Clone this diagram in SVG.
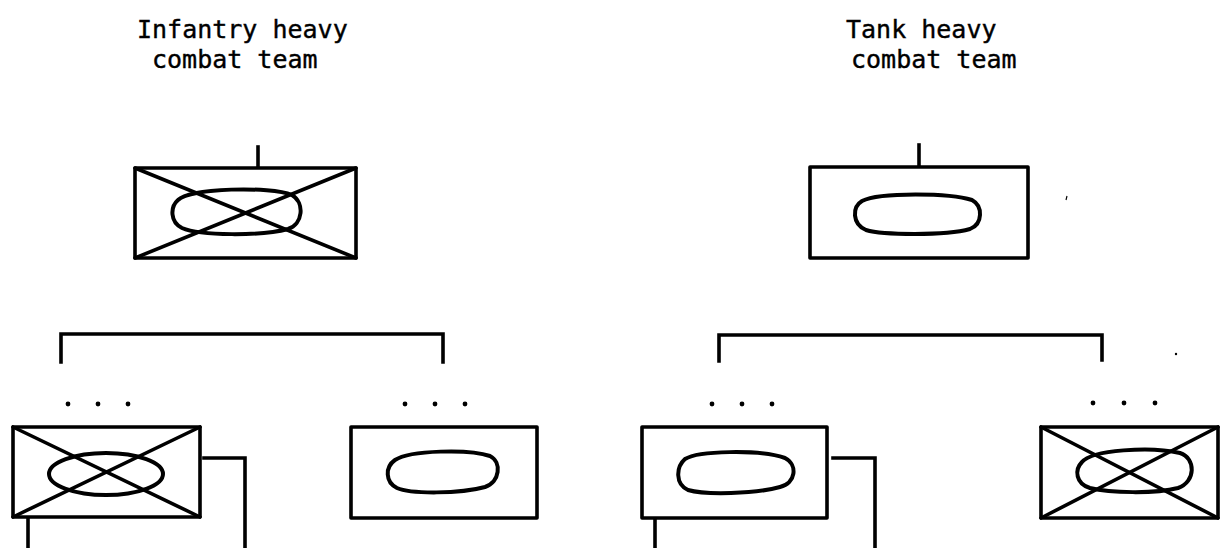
<svg xmlns="http://www.w3.org/2000/svg" width="1220" height="548" viewBox="0 0 1220 548">
<style>
.box{fill:none;stroke:#000;stroke-width:3.6;stroke-linejoin:round}
.x{stroke:#000;stroke-width:3.6;stroke-linecap:round}
.ov{fill:none;stroke:#000;stroke-width:4}
.ln{fill:none;stroke:#000;stroke-width:3.6;stroke-linecap:square}
.dot{fill:#000}
.t{font-family:"DejaVu Sans Mono","Liberation Mono",monospace;font-size:25px;fill:#000;stroke:#000;stroke-width:0.4}
</style>
<rect width="1220" height="548" fill="#fff"/>
<g id="title-infantry">
<text class="t" x="137" y="38">Infantry heavy</text>
<text class="t" x="152" y="68">combat team</text>
</g>
<g id="title-tank">
<text class="t" x="846" y="38">Tank heavy</text>
<text class="t" x="851" y="68">combat team</text>
</g>
<g id="top-infantry">
<rect class="box" x="135" y="168" width="221" height="90"/>
<line class="x" x1="135" y1="168" x2="356" y2="258"/>
<line class="x" x1="135" y1="258" x2="356" y2="168"/>
<path class="ov" d="M178,200 C190,188 270,186 292,195 C305,203 303,224 288,229 C262,236 200,236 182,228 C170,222 170,207 178,200 Z"/>
</g>
<g id="top-tank">
<rect class="box" x="810" y="167" width="218" height="91"/>
<path class="ov" d="M862,201 C880,192 950,193 972,200 C983,206 983,224 970,229 C945,236 882,235 866,230 C852,224 852,207 862,201 Z"/>
</g>
<g id="b1-infantry">
<rect class="box" x="13" y="427" width="187" height="90"/>
<line class="x" x1="13" y1="427" x2="200" y2="517"/>
<line class="x" x1="13" y1="517" x2="200" y2="427"/>
<ellipse class="ov" cx="106" cy="474" rx="57" ry="21"/>
</g>
<g id="b2-tank">
<rect class="box" x="351" y="427" width="186" height="91"/>
<path class="ov" d="M395,460 C410,450 470,449 490,456 C502,462 500,482 485,487 C460,494 410,494 397,488 C385,482 385,467 395,460 Z"/>
</g>
<g id="b3-tank">
<rect class="box" x="642" y="427" width="185" height="91"/>
<path class="ov" d="M685,459 C698,451 758,449 785,458 C798,465 796,483 780,487 C755,494 705,495 688,490 C675,484 676,467 685,459 Z"/>
</g>
<g id="b4-infantry">
<rect class="box" x="1041" y="427" width="177" height="91"/>
<line class="x" x1="1041" y1="427" x2="1218" y2="518"/>
<line class="x" x1="1041" y1="518" x2="1218" y2="427"/>
<path class="ov" d="M1082,462 C1092,450 1150,446 1180,453 C1196,458 1196,482 1178,488 C1155,494 1110,493 1090,488 C1076,484 1074,470 1082,462 Z"/>
</g>
<g id="connectors">
<line class="ln" x1="258" y1="147" x2="258" y2="167"/>
<line class="ln" x1="919" y1="145" x2="919" y2="166"/>
<polyline class="ln" points="61,362 61,334 443,334 443,362"/>
<polyline class="ln" points="719,361 719,335 1102,335 1102,360"/>
<polyline class="ln" points="204,458 245,458 245,550"/>
<line class="ln" x1="28" y1="519" x2="28" y2="550"/>
<polyline class="ln" points="833,458 875,458 875,550"/>
<line class="ln" x1="655" y1="519" x2="655" y2="550"/>
</g>
<g id="ellipsis-dots">
<circle class="dot" cx="68" cy="404" r="2.4"/><circle class="dot" cx="98" cy="404" r="2.4"/><circle class="dot" cx="128" cy="404" r="2.4"/>
<circle class="dot" cx="405" cy="404" r="2.4"/><circle class="dot" cx="435" cy="404" r="2.4"/><circle class="dot" cx="465" cy="404" r="2.4"/>
<circle class="dot" cx="712" cy="404" r="2.4"/><circle class="dot" cx="742" cy="404" r="2.4"/><circle class="dot" cx="772" cy="404" r="2.4"/>
<circle class="dot" cx="1093" cy="403" r="2.4"/><circle class="dot" cx="1124" cy="403" r="2.4"/><circle class="dot" cx="1155" cy="403" r="2.4"/>
</g>
<g id="specks">
<circle class="dot" cx="1176" cy="354" r="1.2"/>
<line x1="1066" y1="200" x2="1067" y2="196" stroke="#000" stroke-width="1.2"/>
</g>
</svg>
